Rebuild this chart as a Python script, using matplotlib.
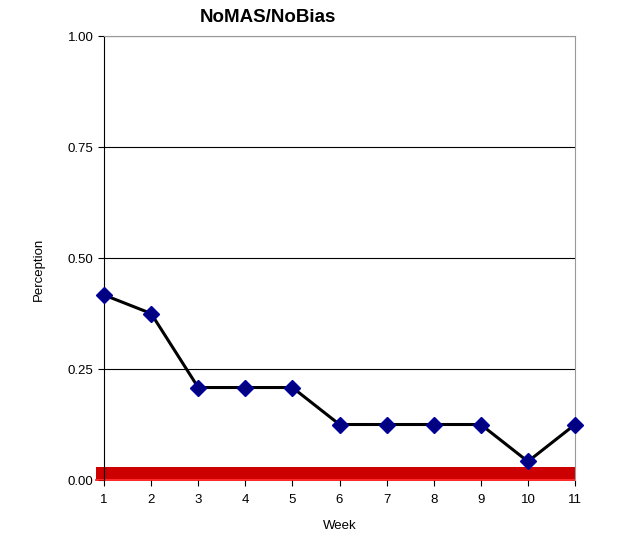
import matplotlib.pyplot as plt
from matplotlib.patches import Rectangle

plt.rcParams['font.family'] = ['Liberation Sans', 'DejaVu Sans']

# Weekly perception scores
weeks = [1, 2, 3, 4, 5, 6, 7, 8, 9, 10, 11]
perception = [0.4167, 0.375, 0.2083, 0.2083, 0.2083, 0.125, 0.125, 0.125, 0.125, 0.0417, 0.125]
yticks = [0.00, 0.25, 0.50, 0.75, 1.00]

fig = plt.figure(figsize=(6.24, 5.35), dpi=100)
ax = fig.add_axes([0.1667, 0.1028, 0.7548, 0.8299])

# horizontal grid
for y in yticks[1:]:
    ax.axhline(y, color='black', linewidth=0.8, zorder=1)

# red baseline band
ax.add_patch(Rectangle((0.82, 0.002), 11 - 0.82, 0.027, facecolor='#cc0000',
                       edgecolor='none', clip_on=False, zorder=2))
ax.plot([0.82, 11], [0.001, 0.001], color='#ff0000', linewidth=1.2, clip_on=False, zorder=2)

ax.plot(weeks, perception, color='black', linewidth=2.2, marker='D',
        markersize=8.5, markerfacecolor='#000080', markeredgecolor='#0000a0',
        clip_on=False, zorder=3)

ax.set_xlim(1, 11)
ax.set_ylim(0, 1)
ax.set_xticks(weeks)
ax.set_yticks(yticks)
ax.set_yticklabels(['%.2f' % v for v in yticks])
ax.tick_params(axis='both', labelsize=9.5, colors='#000000', direction='out', length=4)
ax.tick_params(axis='x', pad=6)

for side in ['top', 'right']:
    ax.spines[side].set_color('#999999')
ax.spines['left'].set_color('black')
ax.spines['bottom'].set_visible(False)

ax.set_xlabel('Week', fontsize=9.5, labelpad=10)
ax.set_ylabel('Perception', fontsize=9.5)
ax.yaxis.set_label_coords(-0.125, 0.475)
fig.text(268 / 624, 1 - 18 / 535, 'NoMAS/NoBias', ha='center', va='center',
         fontsize=13.5, fontweight='bold')

fig.savefig('out.png', dpi=100)
